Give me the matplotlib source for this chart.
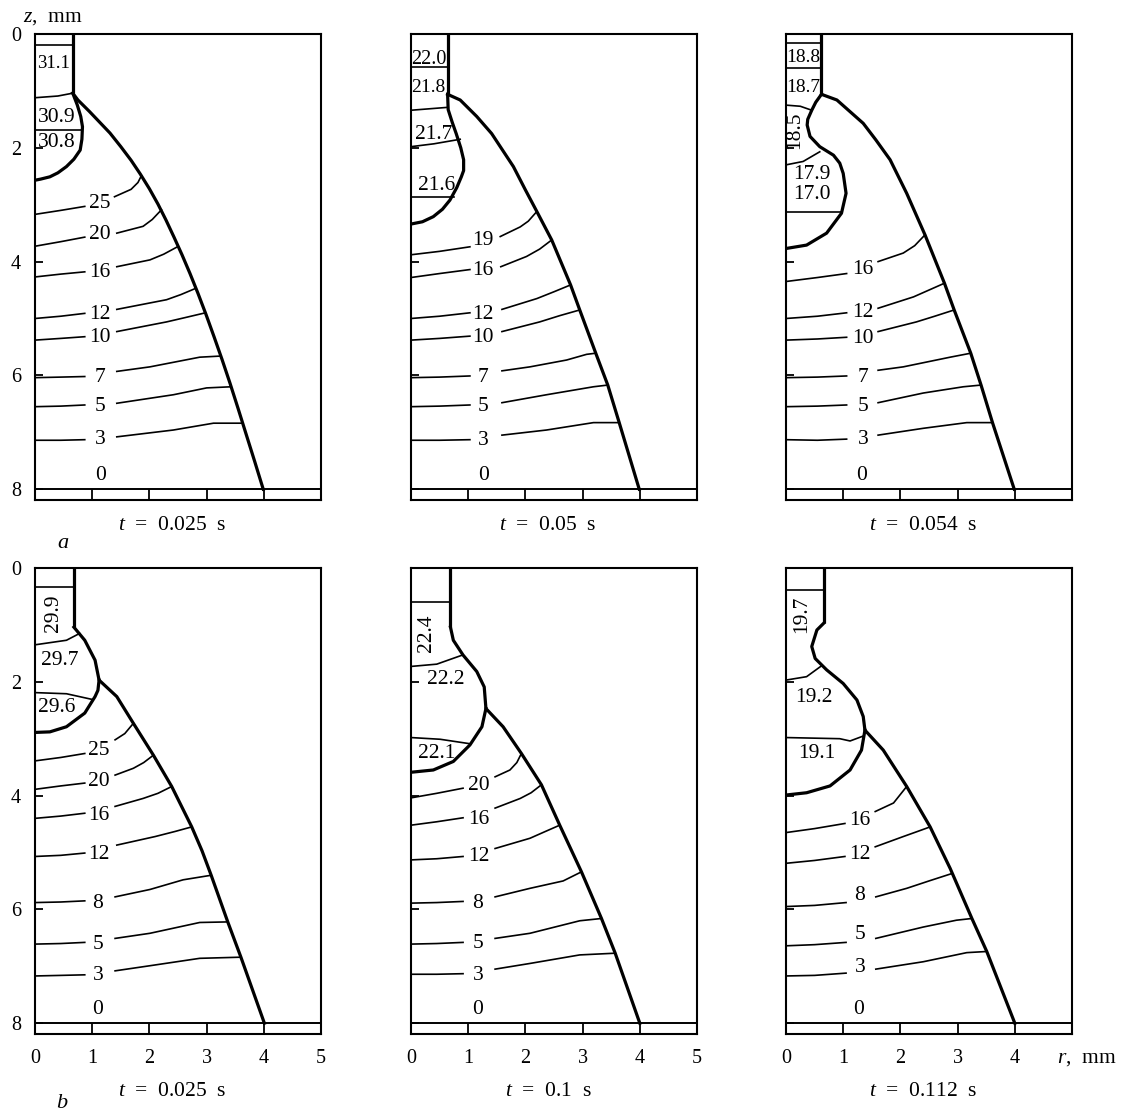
import numpy as np
import matplotlib
matplotlib.use("Agg")
import matplotlib.pyplot as plt

plt.rcParams['font.family'] = ['Liberation Serif', 'DejaVu Serif']
plt.rcParams['mathtext.fontset'] = 'custom'
plt.rcParams['mathtext.rm'] = 'Liberation Serif'
plt.rcParams['mathtext.it'] = 'Liberation Serif:italic'

# ---------------- data (r, z in mm) ----------------
times = ["0.025", "0.05", "0.054", "0.025", "0.1", "0.112"]
x_ticks = [0, 1, 2, 3, 4, 5]
y_ticks = [0, 2, 4, 6, 8]
x_ticklabels_last = ["0", "1", "2", "3", "4", ""]

# ---- panel a, t = 0.025 s ----
a1_outer = [(0.66, 1.04), (0.75, 1.16), (0.95, 1.36), (1.13, 1.55), (1.31, 1.74), (1.50, 1.98),
            (1.68, 2.22), (1.84, 2.46), (2.00, 2.72), (2.15, 2.99), (2.29, 3.27), (2.43, 3.57),
            (2.57, 3.88), (2.71, 4.21), (2.85, 4.56), (2.99, 4.93), (3.13, 5.32), (3.27, 5.72),
            (3.41, 6.14), (3.55, 6.58), (3.69, 7.03), (3.84, 7.51), (3.99, 8.0)]
a1_inner = [(0.66, 1.04), (0.74, 1.25), (0.80, 1.45), (0.83, 1.63), (0.82, 1.85), (0.79, 2.04),
            (0.68, 2.20), (0.55, 2.33), (0.40, 2.44), (0.26, 2.51), (0.10, 2.55), (0.0, 2.57)]
a1_plain = [[(0, 0.19), (0.66, 0.19)],
            [(0, 1.12), (0.40, 1.09), (0.66, 1.04)],
            [(0, 1.68), (0.83, 1.68)]]
a1_notes = [("31.1", 0.32, 0.49, 13.5, 0), ("30.9", 0.38, 1.42, 15.5, 0), ("30.8", 0.38, 1.86, 15.5, 0)]
a1_iso = [("25", [(0, 3.17), (0.45, 3.10), (0.87, 3.03)], [(1.39, 2.86), (1.68, 2.73), (1.80, 2.61), (1.86, 2.49)], (1.14, 2.93)),
          ("20", [(0, 3.73), (0.45, 3.65), (0.87, 3.57)], [(1.43, 3.50), (1.89, 3.38), (2.05, 3.26), (2.21, 3.09)], (1.14, 3.48)),
          ("16", [(0, 4.27), (0.45, 4.22), (0.87, 4.18)], [(1.43, 4.09), (2.01, 3.97), (2.25, 3.87), (2.49, 3.74)], (1.14, 4.15)),
          ("12", [(0, 5.00), (0.45, 4.96), (0.87, 4.91)], [(1.43, 4.84), (2.30, 4.67), (2.55, 4.58), (2.81, 4.47)], (1.14, 4.88)),
          ("10", [(0, 5.38), (0.45, 5.35), (0.87, 5.32)], [(1.43, 5.23), (2.30, 5.06), (2.60, 4.99), (2.98, 4.90)], (1.14, 5.29)),
          ("7", [(0, 6.04), (0.45, 6.03), (0.87, 6.02)], [(1.43, 5.93), (2.01, 5.85), (2.88, 5.68), (3.25, 5.66)], (1.14, 5.99)),
          ("5", [(0, 6.55), (0.45, 6.54), (0.87, 6.52)], [(1.43, 6.49), (2.42, 6.34), (3.00, 6.22), (3.43, 6.20)], (1.14, 6.51)),
          ("3", [(0, 7.14), (0.45, 7.14), (0.87, 7.13)], [(1.43, 7.08), (2.42, 6.96), (3.12, 6.84), (3.63, 6.84)], (1.14, 7.09))]
a1_zero = (1.14, 7.72)

# ---- panel a, t = 0.05 s ----
a2_outer = [(0.64, 1.06), (0.86, 1.16), (1.15, 1.45), (1.41, 1.75), (1.79, 2.33), (2.00, 2.74),
            (2.20, 3.12), (2.46, 3.62), (2.79, 4.41), (2.95, 4.85), (3.23, 5.61), (3.44, 6.17),
            (3.64, 6.83), (3.99, 8.0)]
a2_inner = [(0.64, 1.06), (0.65, 1.33), (0.72, 1.55), (0.79, 1.75), (0.87, 2.00), (0.92, 2.21),
            (0.92, 2.40), (0.88, 2.51), (0.80, 2.70), (0.68, 2.92), (0.55, 3.08), (0.39, 3.21),
            (0.20, 3.30), (0.0, 3.34)]
a2_plain = [[(0, 0.575), (0.64, 0.575)],
            [(0, 1.34), (0.63, 1.29)],
            [(0, 1.98), (0.40, 1.93), (0.86, 1.85)],
            [(0, 2.87), (0.75, 2.87)]]
a2_notes = [("22.0", 0.31, 0.40, 14.5, 0), ("21.8", 0.30, 0.90, 14, 0),
            ("21.7", 0.39, 1.72, 15.5, 0), ("21.6", 0.45, 2.62, 15.5, 0)]
a2_iso = [("19", [(0, 3.88), (0.50, 3.82), (1.03, 3.74)], [(1.56, 3.56), (1.91, 3.39), (2.05, 3.29), (2.20, 3.12)], (1.26, 3.59)),
          ("16", [(0, 4.28), (0.50, 4.21), (1.03, 4.14)], [(1.57, 4.09), (2.02, 3.91), (2.25, 3.78), (2.46, 3.62)], (1.26, 4.12)),
          ("12", [(0, 5.00), (0.50, 4.96), (1.03, 4.90)], [(1.59, 4.84), (2.20, 4.65), (2.50, 4.53), (2.79, 4.41)], (1.26, 4.88)),
          ("10", [(0, 5.38), (0.50, 5.35), (1.03, 5.31)], [(1.59, 5.23), (2.25, 5.06), (2.60, 4.95), (2.95, 4.85)], (1.26, 5.29)),
          ("7", [(0, 6.04), (0.50, 6.03), (1.03, 6.01)], [(1.59, 5.92), (2.08, 5.85), (2.72, 5.73), (3.07, 5.63), (3.23, 5.61)], (1.26, 5.99)),
          ("5", [(0, 6.55), (0.50, 6.54), (1.03, 6.52)], [(1.59, 6.48), (2.37, 6.34), (3.19, 6.20), (3.44, 6.17)], (1.26, 6.50)),
          ("3", [(0, 7.14), (0.50, 7.14), (1.03, 7.13)], [(1.59, 7.05), (2.37, 6.96), (3.19, 6.83), (3.64, 6.83)], (1.26, 7.10))]
a2_zero = (1.26, 7.71)

# ---- panel a, t = 0.054 s ----
a3_outer = [(0.62, 1.06), (0.89, 1.16), (1.35, 1.57), (1.57, 1.86), (1.82, 2.21), (2.11, 2.80),
            (2.43, 3.53), (2.77, 4.38), (2.94, 4.85), (3.23, 5.61), (3.41, 6.17), (3.61, 6.83),
            (3.99, 8.0)]
a3_inner = [(0.62, 1.06), (0.52, 1.20), (0.45, 1.34), (0.38, 1.50), (0.37, 1.60), (0.42, 1.80),
            (0.59, 1.98), (0.83, 2.13), (0.94, 2.27), (1.00, 2.45), (1.05, 2.80), (0.97, 3.15),
            (0.71, 3.50), (0.36, 3.71), (0.0, 3.77)]
a3_plain = [[(0, 0.16), (0.62, 0.16)],
            [(0, 0.60), (0.62, 0.60)],
            [(0, 1.25), (0.25, 1.27), (0.45, 1.34)],
            [(0, 2.30), (0.30, 2.24), (0.59, 2.07)],
            [(0, 3.12), (0.97, 3.12)]]
a3_notes = [("18.8", 0.30, 0.37, 14, 0), ("18.7", 0.30, 0.90, 14, 0), ("18.5", 0.16, 1.69, 15.5, 90),
            ("17.9\n17.0", 0.45, 2.65, 15.5, 0)]
a3_iso = [("16", [(0, 4.35), (0.55, 4.28), (1.06, 4.21)], [(1.61, 4.00), (2.05, 3.85), (2.25, 3.72), (2.43, 3.53)], (1.35, 4.09)),
          ("12", [(0, 5.00), (0.55, 4.96), (1.06, 4.90)], [(1.61, 4.82), (2.23, 4.62), (2.50, 4.50), (2.77, 4.38)], (1.35, 4.85)),
          ("10", [(0, 5.38), (0.55, 5.36), (1.06, 5.33)], [(1.61, 5.23), (2.28, 5.06), (2.60, 4.96), (2.94, 4.85)], (1.35, 5.31)),
          ("7", [(0, 6.04), (0.55, 6.03), (1.06, 6.01)], [(1.61, 5.91), (2.05, 5.85), (2.87, 5.68), (3.23, 5.61)], (1.35, 5.99)),
          ("5", [(0, 6.55), (0.55, 6.54), (1.06, 6.52)], [(1.61, 6.48), (2.40, 6.31), (3.10, 6.20), (3.41, 6.17)], (1.35, 6.50)),
          ("3", [(0, 7.13), (0.55, 7.14), (1.06, 7.12)], [(1.61, 7.05), (2.40, 6.93), (3.16, 6.83), (3.61, 6.83)], (1.35, 7.09))]
a3_zero = (1.32, 7.72)

# ---- panel b, t = 0.025 s ----
b1_outer = [(0.68, 1.04), (0.87, 1.27), (1.05, 1.62), (1.12, 1.97), (1.43, 2.26), (1.72, 2.73),
            (2.07, 3.29), (2.39, 3.84), (2.74, 4.55), (2.92, 4.97), (3.08, 5.40), (3.37, 6.22),
            (3.60, 6.84), (4.01, 8.0)]
b1_inner = [(1.12, 1.97), (1.10, 2.15), (1.05, 2.26), (0.87, 2.55), (0.55, 2.79), (0.26, 2.88), (0.0, 2.89)]
b1_plain = [[(0, 0.34), (0.68, 0.34)],
            [(0, 1.35), (0.55, 1.27), (0.78, 1.15)],
            [(0, 2.19), (0.55, 2.21), (1.00, 2.31)]]
b1_notes = [("29.9", 0.32, 0.80, 15.5, 90), ("29.7", 0.44, 1.59, 15.5, 0), ("29.6", 0.38, 2.41, 15.5, 0)]
b1_iso = [("25", [(0, 3.39), (0.45, 3.33), (0.87, 3.26)], [(1.40, 3.02), (1.57, 2.91), (1.72, 2.73)], (1.11, 3.17)),
          ("20", [(0, 3.89), (0.45, 3.83), (0.87, 3.78)], [(1.40, 3.64), (1.72, 3.52), (1.90, 3.42), (2.07, 3.29)], (1.11, 3.71)),
          ("16", [(0, 4.40), (0.45, 4.36), (0.87, 4.31)], [(1.40, 4.19), (1.89, 4.05), (2.15, 3.96), (2.39, 3.84)], (1.11, 4.30)),
          ("12", [(0, 5.07), (0.45, 5.05), (0.87, 5.01)], [(1.43, 4.87), (2.10, 4.72), (2.45, 4.63), (2.74, 4.55)], (1.11, 4.99)),
          ("8", [(0, 5.88), (0.45, 5.87), (0.87, 5.85)], [(1.40, 5.78), (2.01, 5.65), (2.59, 5.48), (3.08, 5.40)], (1.10, 5.86)),
          ("5", [(0, 6.61), (0.45, 6.60), (0.87, 6.58)], [(1.40, 6.51), (2.01, 6.42), (2.88, 6.23), (3.37, 6.22)], (1.10, 6.57)),
          ("3", [(0, 7.17), (0.45, 7.16), (0.87, 7.15)], [(1.40, 7.08), (2.01, 6.99), (2.88, 6.86), (3.60, 6.84)], (1.10, 7.11))]
b1_zero = (1.10, 7.71)

# ---- panel b, t = 0.1 s ----
b2_outer = [(0.69, 1.04), (0.74, 1.27), (0.91, 1.53), (1.15, 1.82), (1.28, 2.09), (1.31, 2.47),
            (1.61, 2.79), (1.93, 3.26), (2.28, 3.81), (2.60, 4.52), (2.98, 5.34), (3.33, 6.16),
            (3.57, 6.77), (4.00, 8.0)]
b2_inner = [(1.31, 2.47), (1.24, 2.79), (1.03, 3.11), (0.74, 3.40), (0.39, 3.55), (0.0, 3.59)]
b2_plain = [[(0, 0.59), (0.69, 0.59)],
            [(0, 1.73), (0.45, 1.69), (0.90, 1.53)],
            [(0, 2.98), (0.51, 3.01), (1.04, 3.09)]]
b2_notes = [("22.4", 0.27, 1.15, 15.5, 90), ("22.2", 0.61, 1.91, 15.5, 0), ("22.1", 0.45, 3.21, 15.5, 0)]
b2_iso = [("20", [(0, 4.04), (0.45, 3.96), (0.91, 3.87)], [(1.47, 3.67), (1.73, 3.55), (1.85, 3.42), (1.93, 3.26)], (1.18, 3.78)),
          ("16", [(0, 4.52), (0.45, 4.46), (0.91, 4.39)], [(1.47, 4.22), (1.91, 4.05), (2.10, 3.95), (2.28, 3.81)], (1.18, 4.37)),
          ("12", [(0, 5.13), (0.45, 5.11), (0.91, 5.07)], [(1.47, 4.93), (2.08, 4.75), (2.35, 4.63), (2.60, 4.52)], (1.18, 5.03)),
          ("8", [(0, 5.89), (0.45, 5.88), (0.91, 5.86)], [(1.47, 5.78), (2.08, 5.63), (2.66, 5.50), (2.98, 5.34)], (1.17, 5.85)),
          ("5", [(0, 6.61), (0.45, 6.60), (0.91, 6.58)], [(1.47, 6.51), (2.08, 6.42), (2.95, 6.20), (3.33, 6.16)], (1.17, 6.55)),
          ("3", [(0, 7.14), (0.45, 7.14), (0.91, 7.13)], [(1.47, 7.05), (2.08, 6.95), (2.95, 6.80), (3.57, 6.77)], (1.17, 7.11))]
b2_zero = (1.17, 7.71)

# ---- panel b, t = 0.112 s ----
b3_outer = [(0.66, 0.97), (0.54, 1.09), (0.45, 1.38), (0.51, 1.59), (0.71, 1.79), (1.00, 2.03),
            (1.24, 2.32), (1.35, 2.61), (1.38, 2.85), (1.70, 3.20), (2.11, 3.84), (2.52, 4.55),
            (2.87, 5.28), (3.25, 6.16), (3.51, 6.74), (4.00, 8.0)]
b3_inner = [(1.38, 2.85), (1.32, 3.20), (1.12, 3.55), (0.77, 3.83), (0.36, 3.95), (0.0, 3.99)]
b3_plain = [[(0, 0.39), (0.66, 0.39)],
            [(0, 1.97), (0.36, 1.91), (0.62, 1.72)],
            [(0, 2.98), (0.94, 3.00), (1.12, 3.04), (1.36, 2.95)]]
b3_notes = [("19.7", 0.27, 0.81, 15.5, 90), ("19.2", 0.48, 2.23, 15.5, 0), ("19.1", 0.54, 3.21, 15.5, 0)]
b3_iso = [("16", [(0, 4.65), (0.50, 4.58), (1.03, 4.49)], [(1.56, 4.28), (1.88, 4.13), (2.11, 3.84)], (1.29, 4.39)),
          ("12", [(0, 5.19), (0.50, 5.14), (1.03, 5.07)], [(1.56, 4.90), (2.05, 4.72), (2.30, 4.63), (2.52, 4.55)], (1.29, 4.99)),
          ("8", [(0, 5.95), (0.50, 5.93), (1.05, 5.88)], [(1.57, 5.78), (2.11, 5.63), (2.50, 5.50), (2.90, 5.37)], (1.29, 5.72)),
          ("5", [(0, 6.64), (0.50, 6.62), (1.05, 6.58)], [(1.57, 6.51), (2.40, 6.31), (2.98, 6.19), (3.25, 6.16)], (1.29, 6.39)),
          ("3", [(0, 7.17), (0.50, 7.16), (1.05, 7.12)], [(1.57, 7.05), (2.40, 6.92), (3.16, 6.76), (3.51, 6.74)], (1.29, 6.98))]
b3_zero = (1.26, 7.71)

panels = [
    (a1_outer, a1_inner, a1_plain, a1_notes, a1_iso, a1_zero),
    (a2_outer, a2_inner, a2_plain, a2_notes, a2_iso, a2_zero),
    (a3_outer, a3_inner, a3_plain, a3_notes, a3_iso, a3_zero),
    (b1_outer, b1_inner, b1_plain, b1_notes, b1_iso, b1_zero),
    (b2_outer, b2_inner, b2_plain, b2_notes, b2_iso, b2_zero),
    (b3_outer, b3_inner, b3_plain, b3_notes, b3_iso, b3_zero),
]

# ---------------- layout ----------------
W, H = 1122, 1115
fig = plt.figure(figsize=(W / 100, H / 100), dpi=100)
col_left = [35, 411, 786]
row_top = [34, 568]
ax_w, ax_h = 286, 466
Z_BOTTOM = 8.19

THICK = 2.3
THIN = 1.2
LBL = 15.5


def xy(pts):
    a = np.asarray(pts, dtype=float)
    return a[:, 0], a[:, 1]


for k, (outer, inner, plain, notes, iso, zero) in enumerate(panels):
    row, col = divmod(k, 3)
    left = col_left[col] / W
    bottom = 1 - (row_top[row] + ax_h) / H
    ax = fig.add_axes([left, bottom, ax_w / W, ax_h / H])
    ax.set_xlim(0, 5)
    ax.set_ylim(Z_BOTTOM, 0)
    for s in ax.spines.values():
        s.set_linewidth(1.5)

    # electrode wire
    rw, zw = outer[0]
    ax.plot([rw, rw], [0, zw], color='k', lw=THICK, zorder=6, solid_capstyle='butt')
    r, z = xy(outer)
    ax.plot(r, z, color='k', lw=THICK, zorder=5, solid_joinstyle='round')
    r, z = xy(inner)
    ax.plot(r, z, color='k', lw=THICK, zorder=5, solid_joinstyle='round')
    for line in plain:
        r, z = xy(line)
        ax.plot(r, z, color='k', lw=THIN, zorder=3)
    for txt, rr, zz, fs, rot in notes:
        if rot:
            ax.text(rr, zz, txt, fontsize=fs, rotation=rot, ha='center', va='center', zorder=4)
        elif "\n" in txt:
            ax.text(rr, zz, txt, fontsize=fs, ha='center', va='center', multialignment='center',
                    linespacing=1.05, zorder=4)
        else:
            ax.text(rr, zz, txt, fontsize=fs, ha='center', va='center_baseline', zorder=4)
    for lab, lpts, rpts, (lr, lz) in iso:
        r, z = xy(lpts)
        ax.plot(r, z, color='k', lw=THIN, zorder=3)
        r, z = xy(rpts)
        ax.plot(r, z, color='k', lw=THIN, zorder=3)
        ax.text(lr, lz, lab, fontsize=LBL, ha='center', va='center_baseline', zorder=4)
    ax.text(zero[0], zero[1], "0", fontsize=LBL, ha='center', va='center_baseline')

    ax.axhline(8, color='k', lw=1.4, zorder=2)

    ax.set_xticks(x_ticks)
    ax.set_yticks(y_ticks)
    ax.tick_params(axis='x', direction='in', length=8.0, width=1.3, pad=11, labelsize=14.5)
    ax.tick_params(axis='y', direction='in', length=5.5, width=1.3, pad=10, labelsize=14.5)
    if row == 0:
        ax.tick_params(axis='x', labelbottom=False)
    if col > 0:
        ax.tick_params(axis='y', labelleft=False)
    if row == 1 and col == 2:
        ax.set_xticklabels(x_ticklabels_last)

    # time caption
    cx = (col_left[col] + ax_w / 2 - 6) / W
    cy = 1 - (525 if row == 0 else 1091) / H
    fig.text(cx, cy, r"$t$  =  " + times[k] + "  s", fontsize=15.5, ha='center', va='center')

fig.text(23 / W, 1 - 22 / H, r"$z$,  mm", fontsize=15.5, ha='left', va='baseline')
fig.text(1057 / W, 1 - 1063 / H, r"$r$,  mm", fontsize=15.5, ha='left', va='baseline')
fig.text(63 / W, 1 - 543 / H, r"$a$", fontsize=16, ha='center', va='center')
fig.text(62 / W, 1 - 1104 / H, r"$b$", fontsize=16, ha='center', va='center')

fig.savefig("out.png", dpi=100)
